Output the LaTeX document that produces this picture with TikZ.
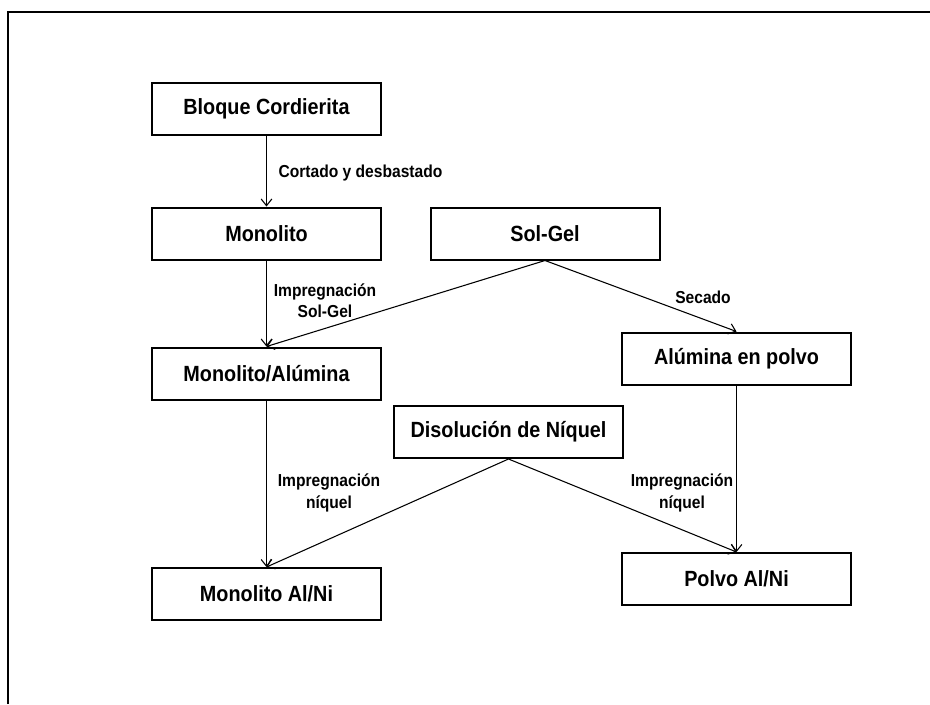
\documentclass[tikz,border=0pt]{standalone}
\usepackage{fontspec}
\setmainfont{Liberation Sans}[FakeStretch=0.9]
\usetikzlibrary{arrows.meta}
\begin{document}
\begin{tikzpicture}[x=0.75pt,y=-0.75pt,
  box/.style={draw,line width=1.5pt,minimum width=171.75pt,minimum height=39pt,inner sep=0pt,font=\fontsize{16.5}{18}\selectfont\bfseries},
  lbl/.style={font=\fontsize{13}{16}\selectfont\bfseries,align=center,inner sep=0pt},
  conn/.style={line width=0.8pt,-{Straight Barb[length=5pt,width=8pt,line width=0.8pt]}}]
\useasboundingbox (0,0) rectangle (930,704);
\draw[line width=1.5pt] (8,704) -- (8,12) -- (930,12);
\node[box] (bloque) at (266.5,108.5) {Bloque Cordierita};
\node[box] (mono) at (266.5,233.5) {Monolito};
\node[box] (solgel) at (545,233.5) {Sol-Gel};
\node[box] (monoalu) at (266.5,373.5) {Monolito/Alúmina};
\node[box] (alupolvo) at (736.5,358.5) {Alúmina en polvo};
\node[box] (disol) at (508.5,432) {Disolución de Níquel};
\node[box] (mononi) at (266.5,594) {Monolito Al/Ni};
\node[box] (polvo) at (736.5,579) {Polvo Al/Ni};
\draw[conn] (bloque.south) -- (mono.north);
\draw[conn] (mono.south) -- (monoalu.north);
\draw[conn] (solgel.south) -- (monoalu.north);
\draw[conn] (solgel.south) -- (alupolvo.north);
\draw[conn] (alupolvo.south) -- (polvo.north);
\draw[conn] (disol.south) -- (polvo.north);
\draw[conn] (monoalu.south) -- (mononi.north);
\draw[conn] (disol.south) -- (mononi.north);
\node[lbl] (l1) at (360.5,173) {Cortado y desbastado};
\node[lbl] (l2) at (325,301) {Impregnación\\Sol-Gel};
\node[lbl] (l3) at (703,297) {Secado};
\node[lbl] (l4) at (329,493) {Impregnación\\níquel};
\node[lbl] (l5) at (682,493) {Impregnación\\níquel};
\end{tikzpicture}
\end{document}
